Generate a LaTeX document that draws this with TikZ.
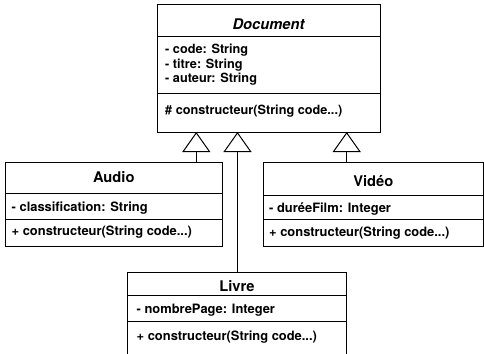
\documentclass[tikz,border=0pt]{standalone}
\usepackage{fontspec}
\setmainfont{TeX Gyre Heros}
\usetikzlibrary{arrows.meta,calc}

\tikzset{
  classbox/.style={draw, line width=1pt, inner sep=0pt, outer sep=0pt, anchor=north west},
  sep/.style={line width=1pt},
  classname/.style={font=\fontsize{14.7}{16}\selectfont\bfseries, anchor=base, inner sep=0pt},
  member/.style={font=\fontsize{12.9}{15}\selectfont\bfseries, anchor=base west, inner sep=0pt},
  docmember/.style={member, font=\fontsize{12.7}{15}\selectfont\bfseries},
  inherit/.style={line width=1pt, -{Triangle[open, length=20pt, width=28pt, fill=white]}}
}

\begin{document}
\begin{tikzpicture}[x=1pt, y=-1pt]
  \useasboundingbox (0,0) rectangle (484,353);
  \clip (0,0) rectangle (484,353);

  % Document (abstract)
  \node[classbox, minimum width=223pt, minimum height=127pt] (doc) at (157,5) {};
  \draw[sep] (157,37) -- (380,37);
  \draw[sep] (157,93) -- (380,93);
  \node[classname, font=\fontsize{14.7}{16}\selectfont\bfseries\itshape] (docname) at (268.5,30) {Document};
  \node[docmember] (docA) at (165,53.5) {- code: String};
  \node[docmember] (docB) at (165,68) {- titre: String};
  \node[docmember] (docC) at (165,82.8) {- auteur: String};
  \node[docmember] (docM) at (165,114.5) {\# constructeur(String code...)};

  % Audio
  \node[classbox, minimum width=216.5pt, minimum height=84pt] (audio) at (5.5,162) {};
  \draw[sep] (5.5,193.5) -- (222,193.5);
  \draw[sep] (5.5,219) -- (222,219);
  \node[classname] (audioname) at (113.75,182.5) {Audio};
  \node[member] (audioA) at (11.5,211) {- classification: String};
  \node[member] (audioM) at (11.5,235.5) {+ constructeur(String code...)};

  % Vidéo
  \node[classbox, minimum width=220pt, minimum height=84pt] (video) at (263.3,162) {};
  \draw[sep] (263.3,195.5) -- (483.3,195.5);
  \draw[sep] (263.3,219.5) -- (483.3,219.5);
  \node[classname] (videoname) at (373.3,186.5) {Vidéo};
  \node[member] (videoA) at (269,212.5) {- duréeFilm: Integer};
  \node[member] (videoM) at (269,236) {+ constructeur(String code...)};

  % Livre
  \node[classbox, minimum width=219pt, minimum height=95pt] (livre) at (127.5,272) {};
  \draw[sep] (127.5,295) -- (346.5,295);
  \draw[sep] (127.5,321) -- (346.5,321);
  \node[classname] (livrename) at (237,291.5) {Livre};
  \node[member] (livreA) at (136.5,313) {- nombrePage: Integer};
  \node[member] (livreM) at (136.5,340.7) {+ constructeur(String code...)};

  % Generalisations
  \draw[inherit] ([xshift=-25.7pt]audio.north east) -- ([xshift=-25.7pt]audio.north east |- doc.south);
  \draw[inherit] ([xshift=110pt]livre.north west) -- ([xshift=110pt]livre.north west |- doc.south);
  \draw[inherit] ([xshift=83.4pt]video.north west) -- ([xshift=83.4pt]video.north west |- doc.south);
\end{tikzpicture}
\end{document}
